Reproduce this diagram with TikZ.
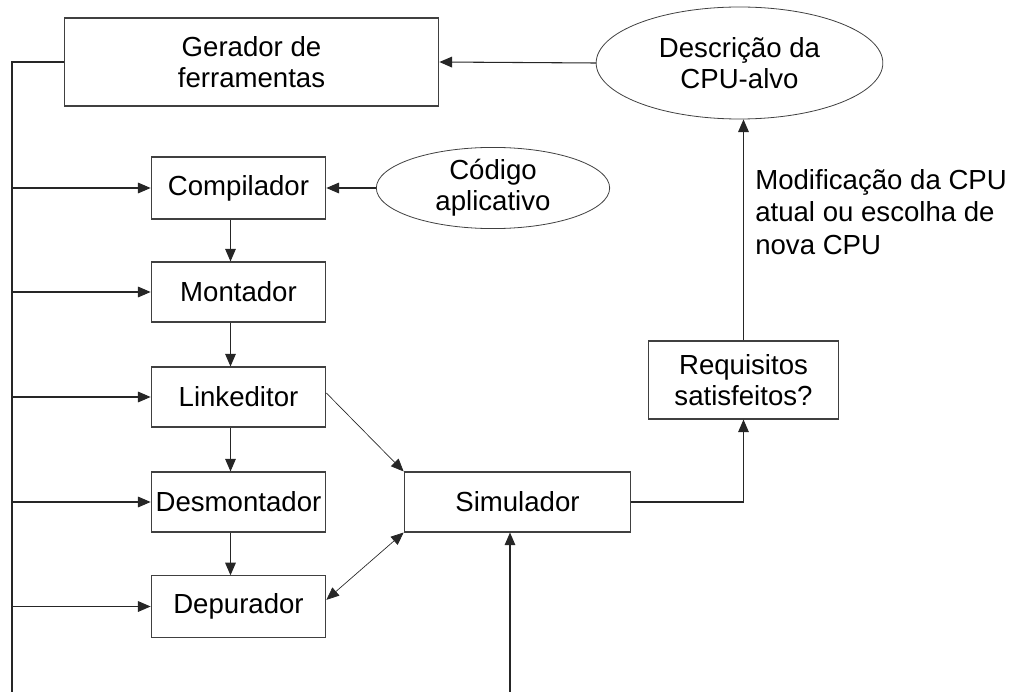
\documentclass[tikz,border=0pt]{standalone}
\usepackage{fontspec}
\setmainfont{Liberation Sans}
\usetikzlibrary{shapes.geometric,arrows.meta}
\tikzset{caixa/.style={draw=black!75, line width=0.8pt, inner sep=0pt, align=center, minimum width=131pt, minimum height=45pt, font=\fontsize{20.7}{23.5}\selectfont}}
\tikzset{elipse/.style={ellipse, draw=black!75, line width=0.6pt, inner sep=0pt, align=center, font=\fontsize{20.7}{23.5}\selectfont}}
\tikzset{seta/.style={-{Triangle[length=9.5pt,width=8pt]}, draw=black!85, line width=0.8pt}}

\begin{document}
\begin{tikzpicture}[x=0.75pt,y=-0.75pt]
\useasboundingbox (0,0) rectangle (1011,692);
\node [caixa, minimum width=281pt, minimum height=66pt] (gerador) at (251.5,62) {Gerador de\\ferramentas};
\node [elipse, minimum width=215pt, minimum height=84pt] (descricao) at (739.5,63) {Descrição da\\CPU-alvo};
\node [caixa, minimum height=46.5pt] (compilador) at (238.5,188) {Compilador};
\node [elipse, minimum width=175pt, minimum height=60pt] (codigo) at (493,188) {Código\\aplicativo};
\node [caixa] (montador) at (238.5,292) {Montador};
\node [caixa] (linkeditor) at (238.5,397) {Linkeditor};
\node [caixa] (desmontador) at (238.5,502) {Desmontador};
\node [caixa, minimum height=46pt] (depurador) at (238.5,606.5) {Depurador};
\node [caixa, minimum width=170pt] (simulador) at (517.5,502) {Simulador};
\node [caixa, minimum width=143pt, minimum height=58.5pt] (requisitos) at (743.5,380) {Requisitos\\satisfeitos?};
\node [anchor=north west, align=left, inner sep=0pt, font=\fontsize{20.7}{24.5}\selectfont] (rotulo) at (755,169) {Modificação da CPU\\atual ou escolha de\\nova CPU};
\coordinate (topo) at (12,62);
\coordinate (base) at (12,692);
\coordinate (entrada) at (510,692);

% ferramentas geradas
\draw [draw=black!85, line width=0.8pt] (gerador.west) -- (topo) -- (base);
\foreach \n in {compilador,montador,linkeditor,desmontador,depurador}
  \draw [seta] (\n.west -| topo) -- (\n.west);
\foreach \a/\b in {compilador/montador,montador/linkeditor,linkeditor/desmontador,desmontador/depurador}
  \draw [seta] ([xshift=-6pt]\a.south) -- ([xshift=-6pt]\b.north);

\draw [seta] (descricao.west) -- (gerador.east);
\draw [seta] (codigo.west) -- (compilador.east);
\draw [seta, line width=0.5pt] ([yshift=3pt]linkeditor.east) -- (simulador.north west);
\draw [seta, {Triangle[length=9.5pt,width=8pt]}-{Triangle[length=9.5pt,width=8pt]}, line width=0.5pt] ([yshift=5pt]depurador.east) -- (simulador.south west);
\draw [seta] (entrada) -- (entrada |- simulador.south);
\draw [seta] (simulador.east) -| (requisitos.south);
\draw [seta] (requisitos.north) -- (requisitos.north |- descricao.south);
\end{tikzpicture}
\end{document}
